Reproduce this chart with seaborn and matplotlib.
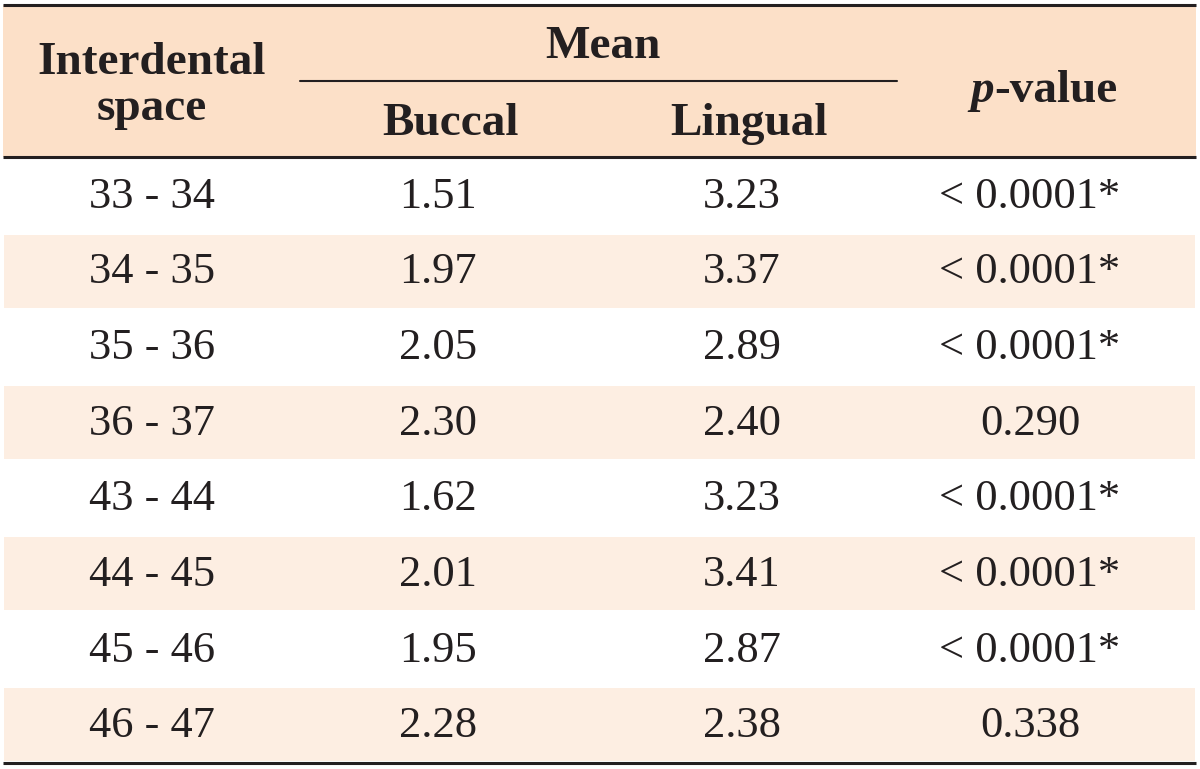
import seaborn as sns
import matplotlib.pyplot as plt
import numpy as np
from matplotlib.colors import ListedColormap

# table content
spaces = ["33 - 34", "34 - 35", "35 - 36", "36 - 37", "43 - 44", "44 - 45", "45 - 46", "46 - 47"]
buccal = [1.51, 1.97, 2.05, 2.30, 1.62, 2.01, 1.95, 2.28]
lingual = [3.23, 3.37, 2.89, 2.40, 3.23, 3.41, 2.87, 2.38]
p_values = ["< 0.0001*", "< 0.0001*", "< 0.0001*", "0.290", "< 0.0001*", "< 0.0001*", "< 0.0001*", "0.338"]

sns.set_theme(style="white")
plt.rcParams['font.family'] = ['Liberation Serif', 'DejaVu Serif']

W, H = 1200, 769
x0, x1 = 3, 1196
header_top, header_bot, body_bot = 5, 157, 762
header_col = "#FCE0C8"
stripe_col = "#FDEEE2"
line_col = "#231F20"
col_x = [152, 438, 742, 1030]

fig = plt.figure(figsize=(12, 7.69), dpi=100)

# body stripes drawn as a heatmap of row parity
ax_bg = fig.add_axes([x0 / W, 1 - body_bot / H, (x1 - x0) / W, (body_bot - header_bot - 1) / H])
shade = (np.arange(len(spaces)) % 2).reshape(-1, 1)
sns.heatmap(shade, ax=ax_bg, cmap=ListedColormap(["white", stripe_col]), cbar=False,
            linewidths=1.2, linecolor="white", xticklabels=False, yticklabels=False)
ax_bg.set_zorder(0)

ax = fig.add_axes([0, 0, 1, 1])
ax.set_zorder(1)
ax.patch.set_alpha(0)
ax.set_xlim(0, W)
ax.set_ylim(H, 0)
ax.axis("off")

# header
ax.fill_between([x0, x1], header_top, header_bot, color=header_col, lw=0, zorder=0)
for yl in (header_top, header_bot, body_bot + 1):
    ax.plot([x0, x1], [yl, yl], color=line_col, lw=2.2, solid_capstyle="butt")
ax.plot([300, 897], [81, 81], color=line_col, lw=1.5)

hkw = dict(ha="center", va="baseline", fontsize=34, fontweight="bold", color=line_col)
ax.text(152, 74, "Interdental", **hkw)
ax.text(152, 120, "space", **hkw)
ax.text(603, 58, "Mean", **hkw)
ax.text(450, 135, "Buccal", **hkw)
ax.text(749, 135, "Lingual", **hkw)
ax.text(994, 102, "p", ha="right", va="baseline", fontsize=34, fontweight="bold",
        fontstyle="italic", color=line_col)
ax.text(994, 102, "-value", ha="left", va="baseline", fontsize=34, fontweight="bold", color=line_col)

# body
row_h = (body_bot - header_bot) / len(spaces)
bkw = dict(ha="center", va="baseline", fontsize=32, color=line_col)
for i, (s, b, l, p) in enumerate(zip(spaces, buccal, lingual, p_values)):
    y = header_bot + (i + 0.5) * row_h + 13
    ax.text(col_x[0], y, s, **bkw)
    ax.text(col_x[1], y, f"{b:.2f}", **bkw)
    ax.text(col_x[2], y, f"{l:.2f}", **bkw)
    ax.text(col_x[3], y, p, **bkw)

fig.savefig("out.png", dpi=100)
